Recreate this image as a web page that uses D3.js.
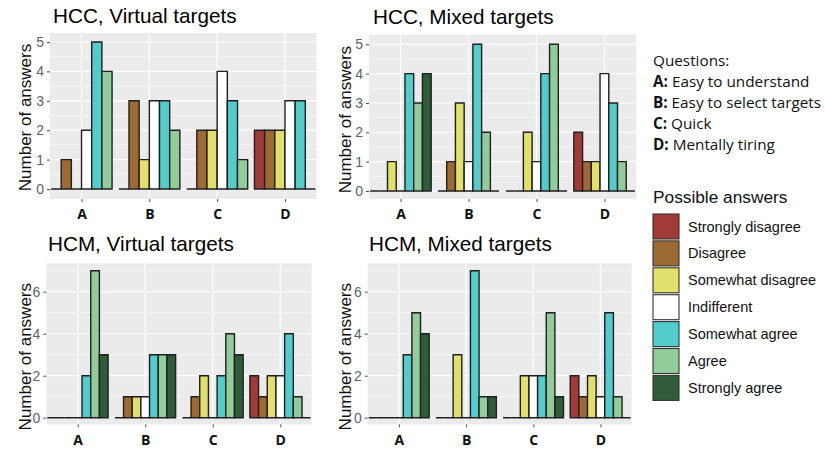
<!DOCTYPE html>
<html><head><meta charset="utf-8">
<script src="https://cdn.jsdelivr.net/npm/d3@7"></script>
<style>
html,body{margin:0;padding:0;background:#fff;}
svg{display:block;}
</style></head>
<body>
<svg id="chart" width="825" height="450"></svg>
<script>
// ---------------- DATA ----------------
const questions = ["A", "B", "C", "D"];
const answers = ["Strongly disagree", "Disagree", "Somewhat disagree", "Indifferent", "Somewhat agree", "Agree", "Strongly agree"];
const answerColors = ["#A03B38", "#9D6A34", "#E0E06A", "#FFFFFF", "#53CCCC", "#93CC9B", "#305C3A"];
const questionLabels = ["Easy to understand", "Easy to select targets", "Quick", "Mentally tiring"];
const panelTitles = ["HCC, Virtual targets", "HCC, Mixed targets", "HCM, Virtual targets", "HCM, Mixed targets"];
// values per question (rows A..D), per answer (columns in `answers` order); null = answer absent from panel
const hccVirtual = [
  [0, 1, 0, 2, 5, 4, null],
  [0, 3, 1, 3, 3, 2, null],
  [0, 2, 2, 4, 3, 1, null],
  [2, 2, 2, 3, 3, 0, null]
];
const hccMixed = [
  [0, 0, 1, 0, 4, 3, 4],
  [0, 1, 3, 1, 5, 2, 0],
  [0, 0, 2, 1, 4, 5, 0],
  [2, 1, 1, 4, 3, 1, 0]
];
const hcmVirtual = [
  [0, 0, 0, 0, 2, 7, 3],
  [0, 1, 1, 1, 3, 3, 3],
  [0, 1, 2, 0, 2, 4, 3],
  [2, 1, 2, 2, 4, 1, 0]
];
const hcmMixed = [
  [0, 0, 0, 0, 3, 5, 4],
  [0, 0, 3, 0, 7, 1, 1],
  [0, 0, 2, 2, 2, 5, 1],
  [2, 1, 2, 1, 5, 1, 0]
];
const yTicksTop = [0, 1, 2, 3, 4, 5];
const yTicksBottom = [0, 2, 4, 6];

// ---------------- LAYOUT ----------------
const panels = [
  {data: hccVirtual, title: panelTitles[0], tx: 53, ty: 23, x0: 50, x1: 316.5, y0: 33, y1: 199, base: 189, topVal: 5, topPx: 42, ticks: yTicksTop, minor: [0.5,1.5,2.5,3.5,4.5], ytx: 31, xl: 219},
  {data: hccMixed, title: panelTitles[1], tx: 373, ty: 24, x0: 369, x1: 636, y0: 35, y1: 199, base: 191, topVal: 5, topPx: 44.3, ticks: yTicksTop, minor: [0.5,1.5,2.5,3.5,4.5], ytx: 351, xl: 219},
  {data: hcmVirtual, title: panelTitles[2], tx: 48, ty: 251, x0: 46.3, x1: 311.7, y0: 263.3, y1: 424.3, base: 417.7, topVal: 6, topPx: 291.7, ticks: yTicksBottom, minor: [1,3,5,7], ytx: 31, xl: 445},
  {data: hcmMixed, title: panelTitles[3], tx: 369, ty: 251, x0: 367.7, x1: 631.7, y0: 263.3, y1: 424.3, base: 417.7, topVal: 6, topPx: 291.7, ticks: yTicksBottom, minor: [1,3,5,7], ytx: 351, xl: 445}
];

const svg = d3.select("#chart");
const FONT = "'Liberation Sans', Arial, sans-serif";
const QFONT = "'Open Sans', 'Noto Sans', sans-serif";

panels.forEach(p => {
  const g = svg.append("g");
  const x = d3.scalePoint().domain(questions).range([p.x0, p.x1]).padding(0.465);
  const y = d3.scaleLinear().domain([0, p.topVal]).range([p.base, p.topPx]);
  const present = answers.filter((a, i) => p.data.some(r => r[i] !== null));
  const inner = d3.scaleBand().domain(present).range([-0.45 * x.step(), 0.45 * x.step()]);

  // background
  g.append("rect").attr("x", p.x0).attr("y", p.y0).attr("width", p.x1 - p.x0).attr("height", p.y1 - p.y0).attr("fill", "#EBEBEB");
  // minor grid
  g.selectAll(".mn").data(p.minor).join("line")
    .attr("x1", p.x0).attr("x2", p.x1).attr("y1", d => y(d)).attr("y2", d => y(d))
    .attr("stroke", "#fff").attr("stroke-width", 0.6);
  // major grid
  g.selectAll(".mj").data(p.ticks).join("line")
    .attr("x1", p.x0).attr("x2", p.x1).attr("y1", d => y(d)).attr("y2", d => y(d))
    .attr("stroke", "#fff").attr("stroke-width", 1.2);
  g.selectAll(".vj").data(questions).join("line")
    .attr("x1", d => x(d)).attr("x2", d => x(d)).attr("y1", p.y0).attr("y2", p.y1)
    .attr("stroke", "#fff").attr("stroke-width", 1.2);

  // bars
  const bars = [];
  p.data.forEach((row, qi) => {
    row.forEach((v, ai) => {
      if (v === null) return;
      bars.push({q: questions[qi], a: answers[ai], v: v, c: answerColors[ai]});
    });
  });
  g.selectAll(".bar").data(bars).join("path")
    .attr("d", d => {
      const bx0 = x(d.q) + inner(d.a), bx1 = bx0 + inner.bandwidth();
      const by0 = y(0), by1 = y(d.v);
      return `M${bx0},${by0}H${bx1}V${by1}H${bx0}Z`;
    })
    .attr("fill", d => d.c).attr("stroke", "#1f1f1f").attr("stroke-width", 1.4);

  // y axis
  const ya = g.append("g").attr("transform", `translate(${p.x0},0)`)
    .call(d3.axisLeft(y).tickValues(p.ticks).tickFormat(d3.format("d")).tickSize(3).tickPadding(3));
  ya.select(".domain").remove();
  ya.selectAll(".tick line").attr("stroke", "#4D4D4D");
  ya.selectAll("text").attr("fill", "#5a6470").style("font-family", FONT).style("font-size", "14px");

  // x axis
  const xa = g.append("g").attr("transform", `translate(0,${p.y1})`)
    .call(d3.axisBottom(x).tickSize(3).tickPadding(5));
  xa.select(".domain").remove();
  xa.selectAll(".tick line").attr("stroke", "#4D4D4D");
  xa.selectAll("text").attr("fill", "#111").style("font-family", QFONT).style("font-weight", "bold").style("font-size", "14px")
    .attr("dy", null).attr("y", p.xl - p.y1);

  // title
  g.append("text").attr("x", p.tx).attr("y", p.ty).text(p.title)
    .style("font-family", FONT).style("font-size", "20.7px").attr("fill", "#000");
  // y title
  g.append("text").attr("transform", `translate(${p.ytx},${(y(0) + y(p.topVal)) / 2 + 2}) rotate(-90)`)
    .attr("text-anchor", "middle").text("Number of answers")
    .style("font-family", FONT).style("font-size", "17px").attr("fill", "#111");
});

// ---------------- Questions legend ----------------
const ql = svg.append("g").style("font-family", QFONT).style("font-size", "15.3px").attr("fill", "#111");
ql.append("text").attr("x", 653).attr("y", 66).text("Questions:");
questions.forEach((q, i) => {
  const t = ql.append("text").attr("x", 653).attr("y", 87 + i * 21);
  t.append("tspan").style("font-weight", "bold").text(q + ":");
  t.append("tspan").text(" " + questionLabels[i]);
});

// ---------------- Answers legend ----------------
const lg = svg.append("g");
lg.append("text").attr("x", 653).attr("y", 203).text("Possible answers")
  .style("font-family", FONT).style("font-size", "17.3px").attr("fill", "#111");
const key = lg.selectAll(".key").data(answers).join("g")
  .attr("transform", (d, i) => `translate(653,${214 + i * 26.9})`);
key.append("rect").attr("x", 0).attr("y", 0).attr("width", 26).attr("height", 25)
  .attr("fill", (d, i) => answerColors[i]).attr("stroke", "#333").attr("stroke-width", 1.1);
key.append("text").attr("x", 35).attr("y", 12.5).attr("dy", "0.35em").text(d => d)
  .style("font-family", FONT).style("font-size", "14.5px").attr("fill", "#111");
</script>
</body></html>
